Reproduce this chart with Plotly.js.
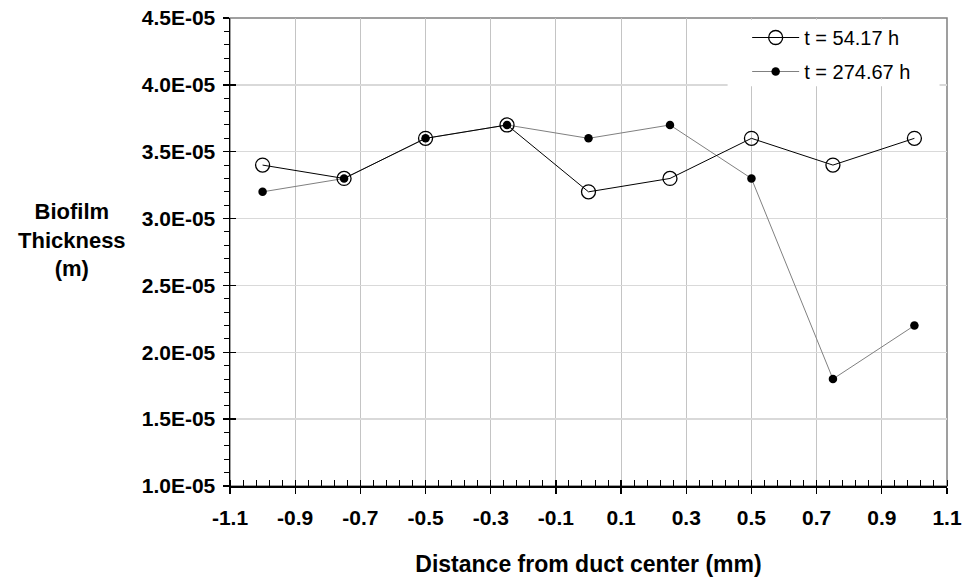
<!DOCTYPE html>
<html>
<head>
<meta charset="utf-8">
<script src="https://cdn.plot.ly/plotly-3.0.1.min.js"></script>
<style>html,body{margin:0;padding:0;background:#fff;}#chart{width:967px;height:582px;}</style>
</head>
<body>
<div id="chart"></div>
<script>
const distance = [-1, -0.75, -0.5, -0.25, 0, 0.25, 0.5, 0.75, 1];
const thickness54 = [3.4e-5, 3.3e-5, 3.6e-5, 3.7e-5, 3.2e-5, 3.3e-5, 3.6e-5, 3.4e-5, 3.6e-5];
const thickness274 = [3.2e-5, 3.3e-5, 3.6e-5, 3.7e-5, 3.6e-5, 3.7e-5, 3.3e-5, 1.8e-5, 2.2e-5];
const seriesNames = ['t = 54.17 h', 't = 274.67 h'];
const xTickVals = [-1.1, -0.9, -0.7, -0.5, -0.3, -0.1, 0.1, 0.3, 0.5, 0.7, 0.9, 1.1];
const xTickLabels = ['-1.1', '-0.9', '-0.7', '-0.5', '-0.3', '-0.1', '0.1', '0.3', '0.5', '0.7', '0.9', '1.1'];
const yTickVals = [1.0e-5, 1.5e-5, 2.0e-5, 2.5e-5, 3.0e-5, 3.5e-5, 4.0e-5, 4.5e-5];
const yTickLabels = ['1.0E-05', '1.5E-05', '2.0E-05', '2.5E-05', '3.0E-05', '3.5E-05', '4.0E-05', '4.5E-05'];

const xRange = [-1.1, 1.1];
const yRange = [1.0e-5, 4.5e-5];
const font = 'Arial, "Liberation Sans", sans-serif';

const traces = [
  {
    x: distance, y: thickness274, name: seriesNames[1], type: 'scatter', mode: 'lines+markers',
    legendgroup: 'b', legendrank: 2,
    line: {color: '#808080', width: 1},
    marker: {symbol: 'circle', size: 8.5, color: '#000000'}
  },
  {
    x: distance, y: thickness54, name: seriesNames[0], type: 'scatter', mode: 'lines+markers',
    legendgroup: 'a', legendrank: 1,
    line: {color: '#000000', width: 1},
    marker: {symbol: 'circle-open', size: 14, color: '#000000', line: {width: 1.3}}
  }
];

const layout = {
  width: 967, height: 582,
  margin: {l: 229.5, r: 19.5, t: 17.5, b: 96},
  paper_bgcolor: '#ffffff', plot_bgcolor: '#ffffff',
  font: {family: font, color: '#000000'},
  showlegend: true,
  legend: {
    x: 0.957, xanchor: 'right', y: 1, yanchor: 'top',
    bgcolor: 'rgba(0,0,0,0)', borderwidth: 0,
    font: {family: font, size: 20, color: '#000000'},
    traceorder: 'grouped', tracegroupgap: 5, itemwidth: 47
  },
  xaxis: {
    range: xRange, tickmode: 'array', tickvals: xTickVals, ticktext: xTickLabels,
    showgrid: true, gridcolor: '#c4c4c4', gridwidth: 1,
    zeroline: false, showline: true, linecolor: '#000000', linewidth: 1.5,
    ticks: 'outside', ticklen: 6, tickwidth: 1.3, tickcolor: '#000000',
    ticklabelstandoff: 6,
    tickfont: {family: font, size: 21, color: '#000000', weight: 'bold'},
    minor: {dtick: 0.04, tick0: -1.1, ticks: 'inside', ticklen: 6, tickwidth: 1, tickcolor: '#000000', showgrid: false},
    title: {text: '<b>Distance from duct center (mm)</b>', font: {family: font, size: 23, color: '#000000'}, standoff: 28}
  },
  yaxis: {
    range: yRange, tickmode: 'array', tickvals: yTickVals, ticktext: yTickLabels,
    showgrid: true, gridcolor: '#d9d9d9', gridwidth: 1.5,
    zeroline: false, showline: true, linecolor: '#000000', linewidth: 1.5,
    ticks: 'outside', ticklen: 6, tickwidth: 1.3, tickcolor: '#000000',
    ticklabelstandoff: 3,
    tickfont: {family: font, size: 21, color: '#000000', weight: 'bold'},
    minor: {dtick: 1e-6, tick0: 1e-5, ticks: 'outside', ticklen: 5, tickwidth: 1, tickcolor: '#000000', showgrid: false}
  },
  xaxis2: {
    overlaying: 'x', anchor: 'y', side: 'bottom', range: xRange,
    tickmode: 'array', tickvals: xTickVals, ticks: 'inside', ticklen: 6, tickwidth: 1.3, tickcolor: '#000000',
    showticklabels: false, showgrid: false, zeroline: false, showline: false
  },
  yaxis2: {
    overlaying: 'y', anchor: 'x', side: 'left', range: yRange,
    tickmode: 'array', tickvals: yTickVals, ticks: 'inside', ticklen: 6, tickwidth: 1.3, tickcolor: '#000000',
    showticklabels: false, showgrid: false, zeroline: false, showline: false
  },
  shapes: [
    {type: 'rect', xref: 'paper', yref: 'paper', x0: 0, x1: 1, y0: 0, y1: 1,
     line: {color: '#808080', width: 1.5}, layer: 'below'},
    {type: 'rect', xref: 'paper', yref: 'paper', x0: 0.694, x1: 0.9896, y0: 0.854, y1: 0.996,
     fillcolor: '#ffffff', line: {width: 0}, layer: 'above'}
  ],
  annotations: [
    {text: '<b>Biofilm<br>Thickness<br>(m)</b>', xref: 'paper', yref: 'paper',
     x: -0.2208, y: 0.525, xanchor: 'center', yanchor: 'middle', showarrow: false, align: 'center',
     font: {family: font, size: 22, color: '#000000'}}
  ]
};

const extra = [
  {x: [null], y: [null], xaxis: 'x2', yaxis: 'y2', showlegend: false, hoverinfo: 'skip'}
];

Plotly.newPlot('chart', traces.concat(extra), layout, {displayModeBar: false, staticPlot: true});
</script>
</body>
</html>
